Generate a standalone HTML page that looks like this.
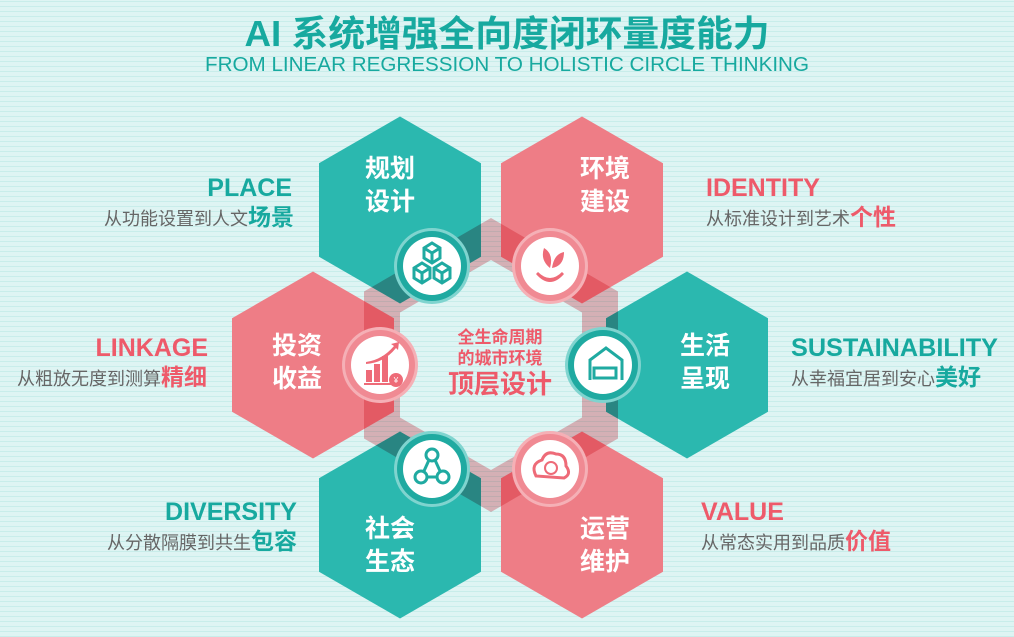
<!DOCTYPE html>
<html><head><meta charset="utf-8"><style>
html,body{margin:0;padding:0;}
body{width:1014px;height:637px;overflow:hidden;background:#def4f3;
background-image:repeating-linear-gradient(0deg,rgba(150,220,215,0.3) 0 1px,transparent 1px 5px);}
svg{display:block;font-family:"Liberation Sans","Noto Sans CJK SC",sans-serif;}
</style></head><body>
<svg width="1014" height="637" viewBox="0 0 1014 637" xmlns="http://www.w3.org/2000/svg">
<defs>
<polygon id="hx" points="0,-93.5 81,-46.75 81,46.75 0,93.5 -81,46.75 -81,-46.75"/>
</defs>
<text x="507" y="46" text-anchor="middle" font-size="36" font-weight="bold" fill="#17a99f" textLength="525" lengthAdjust="spacingAndGlyphs">AI 系统增强全向度闭环量度能力</text>
<text x="507" y="71" text-anchor="middle" font-size="20" fill="#17a99f" textLength="604" lengthAdjust="spacingAndGlyphs">FROM LINEAR REGRESSION TO HOLISTIC CIRCLE THINKING</text>

<g>
<use href="#hx" x="400" y="210" fill="#2bb8af"/>
<use href="#hx" x="582" y="210" fill="#ee7d86"/>
<use href="#hx" x="313" y="365" fill="#ee7d86"/>
<use href="#hx" x="687" y="365" fill="#2bb8af"/>
<use href="#hx" x="400" y="525" fill="#2bb8af"/>
<use href="#hx" x="582" y="525" fill="#ee7d86"/>
</g>
<path fill-rule="evenodd" fill="#ef9aa2" opacity="0.7" style="mix-blend-mode:multiply"
d="M491,218 L618,291.5 L618,438.5 L491,512 L364,438.5 L364,291.5 Z M491,260 L582,312.5 L582,417.5 L491,470 L400,417.5 L400,312.5 Z"/>

<g font-size="25" font-weight="bold" fill="#fff" text-anchor="middle">
<text x="390" y="177">规划</text><text x="390" y="210">设计</text>
<text x="605" y="177">环境</text><text x="605" y="210">建设</text>
<text x="297" y="354">投资</text><text x="297" y="387">收益</text>
<text x="705" y="354">生活</text><text x="705" y="387">呈现</text>
<text x="390" y="537">社会</text><text x="390" y="570">生态</text>
<text x="605" y="537">运营</text><text x="605" y="570">维护</text>
</g>

<circle cx="432" cy="266" r="38" fill="#7fd4cf"/><circle cx="432" cy="266" r="35" fill="#1faaa1"/><circle cx="432" cy="266" r="29" fill="#ffffff"/>
<circle cx="550" cy="266" r="38" fill="#f5b0b6"/><circle cx="550" cy="266" r="35" fill="#f08a93"/><circle cx="550" cy="266" r="29" fill="#ffffff"/>
<circle cx="380" cy="365" r="38" fill="#f5b0b6"/><circle cx="380" cy="365" r="35" fill="#f08a93"/><circle cx="380" cy="365" r="29" fill="#ffffff"/>
<circle cx="603" cy="365" r="38" fill="#7fd4cf"/><circle cx="603" cy="365" r="35" fill="#1faaa1"/><circle cx="603" cy="365" r="29" fill="#ffffff"/>
<circle cx="432" cy="469" r="38" fill="#7fd4cf"/><circle cx="432" cy="469" r="35" fill="#1faaa1"/><circle cx="432" cy="469" r="29" fill="#ffffff"/>
<circle cx="550" cy="469" r="38" fill="#f5b0b6"/><circle cx="550" cy="469" r="35" fill="#f08a93"/><circle cx="550" cy="469" r="29" fill="#ffffff"/>

<g fill="none" stroke="#1faaa1" stroke-width="3">
<path d="M424,248 l8,-5 8,5 v10 l-8,5 -8,-5z M424,248 l8,5 8,-5 M432,253 v10"/>
<path d="M414,268 l8,-5 8,5 v10 l-8,5 -8,-5z M414,268 l8,5 8,-5 M422,273 v10"/>
<path d="M434,268 l8,-5 8,5 v10 l-8,5 -8,-5z M434,268 l8,5 8,-5 M442,273 v10"/>
<circle cx="432" cy="455" r="6"/><circle cx="421" cy="477" r="6"/><circle cx="443" cy="477" r="6"/>
<path d="M429,460 l-5,11 M435,460 l5,11 M427,477 h10"/>
<path d="M590,380 v-20 l16,-12 16,12 v20 M594,368 h22 v10 h-22z"/>
</g>
<g fill="#ee6b78">
<rect x="366" y="370" width="6" height="12"/><rect x="374" y="364" width="6" height="18"/><rect x="382" y="356" width="6" height="26"/>
<rect x="364" y="383" width="30" height="2"/>
<circle cx="396" cy="380" r="7"/>
<path d="M366,362 q16,-2 28,-16 l-3,-2 8,-2 -1,8 -2,-2 q-12,15 -30,16z"/>
<path d="M550,268 q-10,-8 -6,-20 q10,6 6,20z M552,268 q2,-14 12,-16 q0,14 -12,16z M538,272 q12,12 24,0 l2,2 q-14,16 -28,0z"/>
</g>
<text x="396" y="383" text-anchor="middle" font-size="8" fill="#fff">¥</text>
<path d="M536,476 q-6,-12 6,-16 q4,-10 14,-6 q10,0 10,12 q6,8 -2,12 z" fill="none" stroke="#ee6b78" stroke-width="3"/>
<circle cx="551" cy="468" r="6" fill="none" stroke="#ee6b78" stroke-width="2"/>

<g text-anchor="middle" font-weight="bold" fill="#ee5a6a">
<text x="500" y="343" font-size="17">全生命周期</text>
<text x="500" y="364" font-size="17">的城市环境</text>
<text x="500" y="393" font-size="26">顶层设计</text>
</g>

<g font-weight="bold" font-size="25">
<text x="292" y="196" text-anchor="end" fill="#17a99f">PLACE</text>
<text x="706" y="196" fill="#ee5a6a">IDENTITY</text>
<text x="208" y="356" text-anchor="end" fill="#ee5a6a">LINKAGE</text>
<text x="791" y="356" fill="#17a99f" textLength="207" lengthAdjust="spacingAndGlyphs">SUSTAINABILITY</text>
<text x="297" y="520" text-anchor="end" fill="#17a99f">DIVERSITY</text>
<text x="701" y="520" fill="#ee5a6a">VALUE</text>
</g>
<g font-size="18" fill="#666">
<text x="294" y="225" text-anchor="end">从功能设置到人文<tspan font-size="23" font-weight="bold" fill="#17a99f">场景</tspan></text>
<text x="706" y="225">从标准设计到艺术<tspan font-size="23" font-weight="bold" fill="#ee5a6a">个性</tspan></text>
<text x="207" y="385" text-anchor="end">从粗放无度到测算<tspan font-size="23" font-weight="bold" fill="#ee5a6a">精细</tspan></text>
<text x="791" y="385">从幸福宜居到安心<tspan font-size="23" font-weight="bold" fill="#17a99f">美好</tspan></text>
<text x="297" y="549" text-anchor="end">从分散隔膜到共生<tspan font-size="23" font-weight="bold" fill="#17a99f">包容</tspan></text>
<text x="701" y="549">从常态实用到品质<tspan font-size="23" font-weight="bold" fill="#ee5a6a">价值</tspan></text>
</g>
</svg>
</body></html>
